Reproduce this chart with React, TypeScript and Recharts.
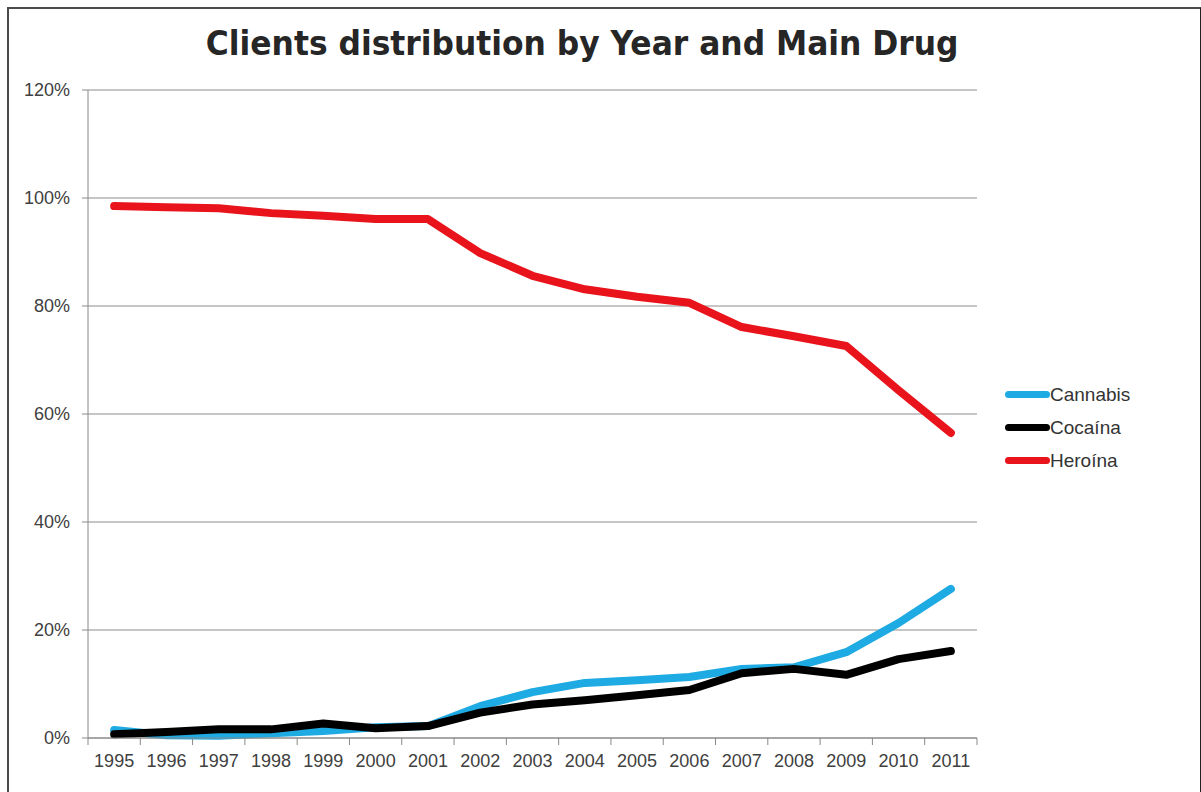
import React from 'react';
import { LineChart, Line, XAxis, YAxis, CartesianGrid } from 'recharts';

const years = ['1995', '1996', '1997', '1998', '1999', '2000', '2001', '2002', '2003', '2004', '2005', '2006', '2007', '2008', '2009', '2010', '2011'];
const cannabis = [1.5, 0.5, 0.4, 0.9, 1.3, 2.0, 2.2, 5.9, 8.5, 10.2, 10.7, 11.3, 12.8, 13.1, 15.9, 21.3, 27.6];
const cocaina = [0.7, 1.1, 1.6, 1.6, 2.7, 1.8, 2.2, 4.7, 6.2, 7.0, 7.9, 8.9, 12.0, 12.8, 11.7, 14.6, 16.1];
const heroina = [98.5, 98.3, 98.1, 97.2, 96.7, 96.1, 96.1, 89.8, 85.6, 83.1, 81.7, 80.6, 76.1, 74.4, 72.6, 64.4, 56.5];
const yTicks = [0, 20, 40, 60, 80, 100, 120];

const seriesDefs = [
  { key: 'cannabis', name: 'Cannabis', color: '#1eaae2' },
  { key: 'cocaina', name: 'Cocaína', color: '#000000' },
  { key: 'heroina', name: 'Heroína', color: '#e8131b' },
];

const data = years.map((y, i) => ({
  year: y,
  cannabis: cannabis[i],
  cocaina: cocaina[i],
  heroina: heroina[i],
}));

const W = 1201;
const H = 792;
const PLOT_LEFT = 88;
const PLOT_RIGHT = 977;
const STEP = (PLOT_RIGHT - PLOT_LEFT) / years.length;
const FONT = '"Liberation Sans", Arial, sans-serif';

// x tick: label at category centre, tick mark at category boundary
const XTick = ({ x, y, payload, index }: any) => (
  <g>
    <line x1={x - STEP / 2} x2={x - STEP / 2} y1={y - 8} y2={y - 1} stroke="#888" />
    {index === years.length - 1 && (
      <line x1={x + STEP / 2} x2={x + STEP / 2} y1={y - 8} y2={y - 1} stroke="#888" />
    )}
    <text x={x} y={y + 21} textAnchor="middle" fontSize={18} fill="#404040" fontFamily={FONT}>
      {payload.value}
    </text>
  </g>
);

const ChartLegend = () => (
  <div style={{ position: 'absolute', left: 1005, top: 378, fontFamily: FONT, fontSize: 19, color: '#333' }}>
    {seriesDefs.map((s) => (
      <div key={s.key} style={{ display: 'flex', alignItems: 'center', height: 33 }}>
        <div style={{ width: 45, height: 7, borderRadius: 4, background: s.color }} />
        <span>{s.name}</span>
      </div>
    ))}
  </div>
);

export default function App() {
  return (
    <div style={{ position: 'absolute', left: 0, top: 0, width: W, height: H, background: '#fff', overflow: 'hidden' }}>
      <div
        style={{
          position: 'absolute',
          left: 7,
          top: 7,
          width: 1191,
          height: 820,
          borderLeft: '2px solid #4a4a4a',
          borderTop: '2px solid #4a4a4a',
          borderRight: '1px solid #222',
        }}
      />
      <div
        style={{
          position: 'absolute',
          left: 0,
          width: 1164,
          top: 24,
          textAlign: 'center',
          fontFamily: '"DejaVu Sans", Verdana, sans-serif',
          fontWeight: 'bold',
          fontSize: 33,
          color: '#262626',
          whiteSpace: 'nowrap',
        }}
      >
        <span style={{ display: 'inline-block', transform: 'scaleX(0.95)' }}>
          Clients distribution by Year and Main Drug
        </span>
      </div>
      <div style={{ position: 'absolute', left: 0, top: 0 }}>
        <LineChart width={W} height={H} data={data} margin={{ top: 90, right: W - PLOT_RIGHT, bottom: 0, left: 0 }}>
          <CartesianGrid vertical={false} stroke="#8c8c8c" strokeWidth={1} />
          <XAxis
            dataKey="year"
            height={54}
            padding={{ left: STEP / 2, right: STEP / 2 }}
            axisLine={{ stroke: '#888' }}
            tickLine={false}
            tick={<XTick />}
            interval={0}
          />
          <YAxis
            width={PLOT_LEFT}
            domain={[0, 120]}
            ticks={yTicks}
            tickFormatter={(v: number) => `${v}%`}
            axisLine={{ stroke: '#888' }}
            tickLine={{ stroke: '#888' }}
            tickSize={6}
            tickMargin={12}
            tick={{ fontSize: 18, fill: '#404040', fontFamily: FONT }}
          />
          {seriesDefs.map((s) => (
            <Line
              key={s.key}
              type="linear"
              dataKey={s.key}
              name={s.name}
              stroke={s.color}
              strokeWidth={8}
              strokeLinejoin="round"
              strokeLinecap="round"
              dot={false}
              isAnimationActive={false}
            />
          ))}
        </LineChart>
      </div>
      <ChartLegend />
    </div>
  );
}
